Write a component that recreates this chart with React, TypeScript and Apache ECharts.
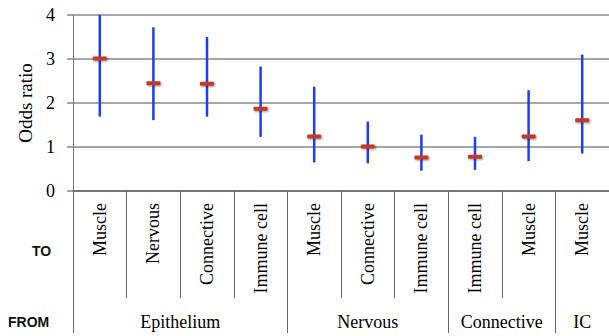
import React, { useEffect, useRef } from 'react';
import * as echarts from 'echarts';

const categories = ['Muscle', 'Nervous', 'Connective', 'Immune cell', 'Muscle', 'Connective', 'Immune cell', 'Immune cell', 'Muscle', 'Muscle'];
const oddsRatio = [3.01, 2.45, 2.44, 1.87, 1.24, 1.01, 0.76, 0.78, 1.24, 1.61];
const lowerCI = [1.69, 1.61, 1.69, 1.23, 0.65, 0.63, 0.46, 0.48, 0.68, 0.85];
const upperCI = [4.0, 3.72, 3.5, 2.83, 2.37, 1.58, 1.28, 1.23, 2.29, 3.1];
const groups = ['Epithelium', 'Nervous', 'Connective', 'IC'];
const groupSizes = [4, 3, 2, 1];
const yMin = 0;
const yMax = 4;
const yInterval = 1;

const SERIF = 'Liberation Serif';
const SANS = 'Liberation Sans';

export default function App() {
  const ref = useRef<HTMLDivElement>(null);

  useEffect(() => {
    if (!ref.current) return;
    const chart = echarts.init(ref.current, undefined, { renderer: 'svg' });

    const boundaries: number[] = [0];
    groupSizes.forEach((s) => boundaries.push(boundaries[boundaries.length - 1] + s));
    const centers = groupSizes.map((s, i) => boundaries[i] + s / 2);

    const data = categories.map((c, i) => [i, oddsRatio[i], lowerCI[i], upperCI[i]]);

    const serifText = { fontFamily: SERIF, fontSize: 18, color: '#000', fontWeight: 'normal' as const };

    chart.setOption({
      animation: false,
      backgroundColor: '#fff',
      textStyle: { fontFamily: SERIF, fontSize: 18, color: '#000' },
      grid: { left: 73, right: -4, top: 15, bottom: 145, containLabel: false },
      xAxis: [
        {
          type: 'category',
          data: categories,
          boundaryGap: true,
          axisLine: { show: true, lineStyle: { color: '#666', width: 1.5 } },
          axisTick: { show: true, interval: 0, alignWithLabel: false, length: 107, lineStyle: { color: '#666', width: 1 } },
          axisLabel: { interval: 0, rotate: 90, margin: 12, ...serifText },
          splitLine: { show: false },
        },
        {
          type: 'value',
          min: 0,
          max: categories.length,
          position: 'bottom',
          offset: 142,
          axisLine: { show: true, lineStyle: { color: '#777', width: 2, shadowBlur: 2, shadowColor: 'rgba(0,0,0,0.3)', shadowOffsetY: 1 } },
          axisTick: { show: true, inside: true, length: 142, customValues: boundaries, lineStyle: { color: '#666', width: 1 } },
          axisLabel: {
            show: true,
            inside: true,
            margin: 2,
            customValues: centers,
            formatter: (v: number) => {
              const idx = centers.findIndex((c) => Math.abs(c - v) < 1e-6);
              return idx >= 0 ? groups[idx] : '';
            },
            ...serifText,
          },
          splitLine: { show: false },
        },
      ],
      yAxis: {
        type: 'value',
        min: yMin,
        max: yMax,
        interval: yInterval,
        name: 'Odds ratio',
        nameLocation: 'middle',
        nameRotate: 90,
        nameGap: 35,
        nameTextStyle: { ...serifText, fontSize: 19 },
        axisLine: { show: true, lineStyle: { color: '#777', width: 1 } },
        axisTick: { show: true, length: 6, lineStyle: { color: '#888', width: 1.5 } },
        axisLabel: { margin: 18, ...serifText },
        splitLine: { show: true, lineStyle: { color: '#888', width: 1.5 } },
      },
      graphic: [
        { type: 'text', x: 32, y: 244, style: { text: 'TO', fontFamily: SANS, fontWeight: 'bold', fontSize: 14, fill: '#111' } },
        { type: 'text', x: 8, y: 315, style: { text: 'FROM', fontFamily: SANS, fontWeight: 'bold', fontSize: 14, fill: '#111' } },
      ],
      series: [
        {
          type: 'custom',
          xAxisIndex: 0,
          yAxisIndex: 0,
          encode: { x: 0, y: [1, 2, 3] },
          data,
          clip: false,
          renderItem: (params: any, api: any) => {
            const x = api.value(0);
            const c = api.coord([x, api.value(1)]);
            const lo = api.coord([x, api.value(2)]);
            const hi = api.coord([x, api.value(3)]);
            return {
              type: 'group',
              children: [
                {
                  type: 'line',
                  shape: { x1: lo[0], y1: lo[1], x2: hi[0], y2: hi[1] },
                  style: { stroke: '#1d3cff', lineWidth: 2.5 },
                },
                {
                  type: 'rect',
                  shape: { x: c[0] - 7, y: c[1] - 2, width: 14, height: 4, r: 1 },
                  style: { fill: '#c23a20', shadowBlur: 2, shadowColor: 'rgba(0,0,0,0.45)', shadowOffsetX: 1, shadowOffsetY: 1 },
                },
              ],
            };
          },
        },
      ],
    });

    return () => chart.dispose();
  }, []);

  return <div ref={ref} style={{ position: 'fixed', left: 0, top: 0, width: 609, height: 336 }} />;
}
